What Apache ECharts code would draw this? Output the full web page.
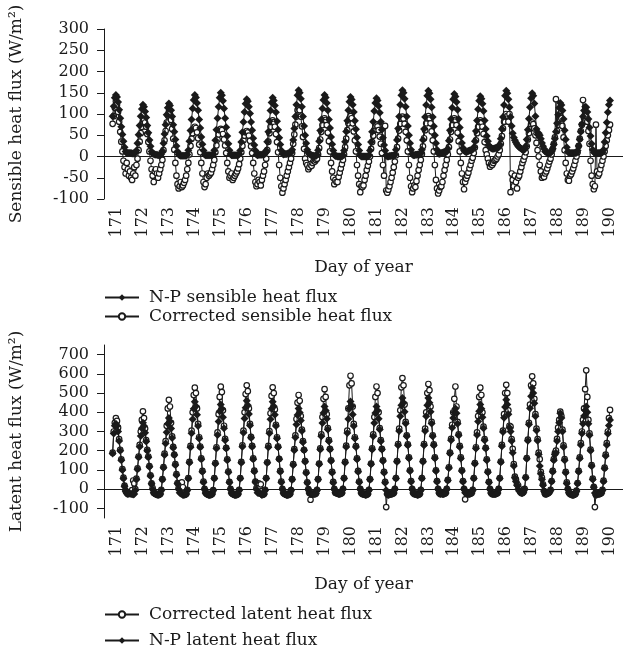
<!DOCTYPE html>
<html>
<head>
<meta charset="utf-8">
<title>Sensible and latent heat flux</title>
<script src="https://cdn.jsdelivr.net/npm/echarts@6/dist/echarts.min.js"></script>
<style>
  html, body { margin: 0; padding: 0; background: #fff; }
  #chart { width: 623px; height: 654px; }
</style>
</head>
<body>
<div id="chart"></div>
<script>
// day of year, one category per day
const days = [171, 172, 173, 174, 175, 176, 177, 178, 179, 180,
  181, 182, 183, 184, 185, 186, 187, 188, 189, 190]

// tick labels of the latent panel (axis runs a bit below -100 and above 700)
const latentTicks = [-100, 0, 100, 200, 300, 400, 500, 600, 700]

// hourly values, one row per day (hour 0..23); record starts day 171 08:00, ends day 190 12:00
const _ = null

// N-P sensible heat flux (W/m2)
const npSensible = [
  [_, _, _, _, _, _, _, _, 95, 118, 138, 145, 140, 128, 110, 90, 70, 52, 36, 22, 12, 8, 8, 8],
  [8, 8, 7, 7, 7, 9, 14, 31, 51, 73, 95, 112, 122, 117, 106, 92, 73, 56, 39, 24, 12, 7, 6, 5],
  [4, 4, 3, 3, 3, 6, 13, 31, 53, 75, 98, 115, 125, 120, 109, 94, 75, 58, 40, 25, 12, 5, 3, 2],
  [2, 2, 2, 2, 2, 5, 15, 36, 61, 87, 113, 133, 145, 139, 126, 109, 87, 67, 46, 29, 14, 5, 3, 3],
  [3, 3, 3, 3, 3, 6, 15, 38, 63, 90, 117, 138, 150, 144, 131, 113, 90, 69, 48, 30, 15, 6, 3, 3],
  [3, 3, 3, 3, 3, 6, 14, 34, 57, 81, 105, 124, 135, 130, 117, 101, 81, 62, 43, 27, 14, 5, 3, 4],
  [4, 4, 4, 5, 5, 7, 14, 35, 58, 83, 108, 127, 138, 132, 120, 104, 83, 63, 44, 28, 14, 7, 5, 6],
  [6, 6, 7, 7, 8, 10, 16, 39, 66, 94, 122, 144, 156, 150, 136, 117, 94, 72, 50, 31, 16, 9, 6, 4],
  [3, 2, 2, 1, 1, 4, 15, 36, 61, 87, 113, 133, 145, 139, 126, 109, 87, 67, 46, 29, 14, 4, 1, 1],
  [0, 0, 0, 0, 0, 3, 14, 35, 59, 84, 109, 129, 140, 134, 122, 105, 84, 64, 45, 28, 14, 3, 0, 0],
  [0, 0, 0, 0, 0, 3, 14, 34, 58, 82, 107, 126, 137, 132, 119, 103, 82, 63, 44, 27, 14, 3, 0, 0],
  [1, 1, 2, 2, 2, 5, 16, 39, 66, 94, 122, 144, 156, 150, 136, 117, 94, 72, 50, 31, 16, 6, 3, 3],
  [4, 4, 5, 5, 5, 8, 16, 39, 65, 93, 121, 143, 155, 149, 135, 116, 93, 71, 50, 31, 16, 8, 6, 7],
  [8, 9, 10, 10, 10, 12, 18, 37, 62, 88, 115, 135, 147, 141, 128, 110, 88, 68, 47, 32, 20, 14, 12, 10],
  [12, 13, 14, 14, 15, 17, 22, 36, 60, 85, 111, 131, 142, 136, 124, 107, 85, 65, 48, 36, 26, 22, 20, 18],
  [18, 19, 20, 20, 20, 22, 28, 42, 65, 93, 121, 143, 155, 149, 135, 116, 93, 72, 55, 45, 38, 33, 28, 25],
  [22, 20, 18, 16, 15, 17, 24, 40, 63, 89, 116, 137, 149, 143, 125, 95, 65, 52, 55, 50, 42, 32, 24, 18],
  [12, 10, 9, 8, 8, 9, 12, 18, 28, 42, 58, 78, 98, 115, 126, 121, 108, 88, 62, 40, 22, 12, 8, 8],
  [8, 8, 8, 8, 8, 9, 14, 25, 40, 58, 76, 94, 108, 117, 116, 105, 88, 68, 48, 30, 16, 10, 8, 8],
  [8, 8, 8, 8, 8, 10, 16, 34, 56, 80, 104, 122, 132]
]

// corrected sensible heat flux (W/m2)
const corrSensible = [
  [_, _, _, _, _, _, _, _, 77, 95, 115, 130, 122, 105, 82, 58, 35, 12, -10, -25, -40, -15, -30, -45],
  [-35, -50, -55, -40, -25, -45, -20, -5, 15, 35, 55, 70, 82, 85, 80, 70, 53, 34, 12, -10, -30, -45, -60, -35],
  [-30, -40, -50, -40, -30, -20, -8, 15, 38, 60, 80, 97, 105, 100, 86, 65, 42, 16, -15, -45, -65, -75, -70, -60],
  [-72, -68, -62, -55, -45, -30, -15, 5, 25, 42, 55, 66, 70, 67, 57, 43, 28, 10, -15, -40, -60, -72, -65, -50],
  [-40, -45, -42, -38, -30, -20, -8, 10, 26, 40, 52, 62, 65, 62, 53, 40, 26, 8, -15, -35, -50, -45, -40, -55],
  [-50, -45, -40, -35, -28, -18, -5, 10, 25, 38, 49, 57, 60, 57, 49, 37, 24, 8, -15, -40, -60, -70, -65, -55],
  [-60, -68, -55, -45, -35, -20, -5, 15, 35, 55, 70, 81, 85, 81, 70, 53, 34, 10, -20, -50, -70, -85, -75, -65],
  [-55, -45, -35, -25, -15, -5, 8, 30, 52, 75, 94, 109, 115, 109, 94, 71, 46, 18, -5, -15, -20, -30, -25, -18],
  [-22, -15, -10, -12, -8, -5, 5, 20, 40, 58, 74, 86, 90, 86, 74, 56, 36, 12, -15, -35, -50, -65, -55, -60],
  [-60, -48, -38, -28, -18, -8, 5, 22, 42, 62, 78, 90, 95, 90, 78, 59, 38, 12, -20, -45, -65, -84, -70, -72],
  [-68, -55, -45, -32, -22, -12, 0, 18, 34, 49, 62, 71, 75, 71, 62, 47, 30, 8, -20, -45, 72, -80, -85, -78],
  [-70, -60, -50, -38, -25, -12, 3, 22, 42, 61, 77, 89, 94, 89, 77, 58, 38, 12, -20, -50, -70, -84, -75, -68],
  [-72, -58, -45, -32, -20, -8, 6, 24, 43, 62, 78, 90, 95, 90, 78, 59, 38, 12, -20, -55, -75, -87, -80, -72],
  [-70, -60, -45, -32, -20, -8, 5, 22, 40, 58, 74, 86, 90, 86, 74, 56, 36, 12, -15, -40, -60, -77, -60, -52],
  [-45, -38, -28, -20, -10, -3, 8, 21, 38, 55, 70, 81, 85, 81, 70, 53, 34, 15, 5, -5, -15, -24, -18, -20],
  [-15, -10, -8, -5, 0, 5, 15, 30, 48, 66, 82, 95, 100, 95, 82, 100, -84, -40, -55, -70, -45, -60, -75, -50],
  [-45, -35, -25, -15, -8, 0, 10, 24, 40, 55, 66, 76, 80, 76, 66, 50, 32, 15, 0, -20, -35, -50, -45, -48],
  [-40, -35, -28, -20, -12, -5, 5, 18, 30, 45, 135, 60, 75, 88, 95, 90, 72, 45, 15, -15, -40, -55, -57, -45],
  [-42, -35, -28, -20, -10, 0, 10, 25, 42, 60, 75, 133, 90, 98, 95, 82, 60, 30, -10, -45, -65, -77, -70, 75],
  [-35, -45, -40, -30, -20, -10, 0, 12, 25, 38, 50, 62, 75]
]

// N-P latent heat flux (W/m2)
const npLatent = [
  [_, _, _, _, _, _, _, _, 185, 290, 330, 340, 330, 300, 250, 200, 150, 100, 55, 15, -10, -20, -25, -22],
  [-22, -25, -25, -28, -25, -5, 50, 104, 166, 221, 276, 317, 345, 328, 293, 248, 200, 166, 117, 69, 28, 0, -18, -22],
  [-25, -28, -30, -28, -25, -5, 50, 111, 178, 237, 296, 340, 370, 352, 315, 266, 215, 178, 126, 74, 30, 0, -18, -22],
  [-25, -30, -30, -28, -25, -5, 55, 137, 218, 291, 364, 419, 455, 432, 387, 328, 264, 218, 155, 91, 36, 0, -20, -25],
  [-25, -30, -30, -28, -25, -5, 55, 132, 211, 282, 352, 405, 440, 418, 374, 317, 255, 211, 150, 88, 35, 0, -20, -25],
  [-25, -30, -30, -28, -25, -5, 55, 138, 221, 294, 368, 423, 460, 437, 391, 331, 267, 221, 156, 92, 37, 0, -18, -20],
  [-20, -25, -30, -28, -25, -5, 55, 137, 218, 291, 364, 419, 455, 432, 387, 328, 264, 218, 155, 91, 36, 0, -20, -25],
  [-25, -30, -30, -28, -25, -5, 50, 126, 202, 269, 336, 386, 420, 399, 357, 302, 244, 202, 143, 84, 34, 0, -20, -25],
  [-25, -25, -25, -25, -22, -5, 50, 129, 206, 275, 344, 396, 430, 409, 366, 310, 249, 206, 146, 86, 34, 0, -18, -20],
  [-20, -25, -25, -22, -20, 0, 55, 137, 219, 292, 365, 420, 456, 433, 388, 328, 264, 219, 155, 91, 36, 0, -20, -25],
  [-25, -25, -30, -28, -25, -5, 50, 129, 206, 275, 344, 396, 430, 409, 366, 310, 249, 206, 146, 86, 34, -5, -25, -30],
  [-25, -25, -25, -22, -20, 0, 55, 142, 228, 303, 379, 436, 474, 450, 403, 341, 275, 228, 161, 95, 38, 0, -20, -25],
  [-25, -25, -30, -28, -25, -5, 55, 142, 228, 303, 379, 436, 474, 450, 403, 341, 275, 228, 161, 95, 38, 0, -20, -25],
  [-20, -25, -25, -22, -20, 0, 45, 110, 185, 255, 320, 370, 400, 420, 395, 340, 280, 220, 160, 95, 38, 0, -18, -20],
  [-20, -25, -25, -22, -20, -5, 55, 132, 211, 282, 352, 405, 440, 418, 374, 317, 255, 211, 150, 88, 35, 0, -20, -25],
  [-25, -25, -25, -22, -20, 0, 55, 140, 223, 298, 372, 428, 465, 440, 390, 320, 300, 250, 190, 120, 60, 40, 20, 0],
  [-10, -15, -20, -20, -15, 0, 60, 158, 252, 337, 421, 484, 526, 500, 447, 379, 305, 252, 180, 120, 80, 50, 20, -10],
  [-25, -25, -22, -20, -15, -5, 40, 90, 150, 180, 190, 250, 300, 345, 395, 370, 300, 220, 150, 85, 30, 0, -18, -25],
  [-25, -30, -30, -28, -25, -10, 30, 90, 160, 230, 290, 340, 380, 410, 430, 400, 340, 280, 200, 120, 50, 10, -20, -30],
  [-25, -25, -25, -22, -20, -5, 40, 108, 173, 230, 288, 331, 360]
]

// corrected latent heat flux (W/m2)
const corrLatent = [
  [_, _, _, _, _, _, _, _, 190, 300, 345, 370, 355, 320, 260, 205, 155, 105, 60, 18, -8, -18, -25, -20],
  [-20, -15, -5, 45, 30, 0, 55, 108, 170, 230, 300, 360, 405, 370, 315, 255, 205, 170, 120, 72, 30, 5, -18, -22],
  [-25, -28, -30, -28, -25, -3, 52, 115, 185, 250, 330, 420, 465, 430, 345, 275, 220, 180, 130, 78, 32, 5, 15, 30],
  [35, 10, -20, -28, -25, -3, 58, 142, 225, 305, 400, 490, 528, 500, 420, 340, 270, 222, 160, 95, 40, 2, -18, -25],
  [-25, -30, -30, -28, -25, -5, 58, 136, 218, 295, 390, 480, 533, 505, 410, 330, 262, 215, 155, 92, 38, 2, -20, -25],
  [-25, -30, -30, -28, -25, -3, 58, 142, 228, 305, 400, 495, 540, 510, 420, 340, 272, 225, 160, 96, 40, 5, 15, 30],
  [10, 25, -10, -28, -25, -3, 58, 140, 225, 302, 395, 485, 530, 500, 415, 335, 270, 222, 158, 95, 40, 2, -20, -25],
  [-25, -30, -30, -28, -25, -5, 52, 130, 208, 280, 365, 450, 490, 460, 380, 310, 250, 205, 146, 88, 36, 0, -20, -55],
  [-25, -25, -25, -25, -22, -3, 52, 133, 212, 285, 375, 470, 520, 480, 390, 318, 255, 210, 150, 90, 38, 2, -18, -20],
  [-20, -25, -25, -22, -20, 2, 58, 142, 226, 305, 420, 540, 590, 550, 430, 340, 270, 224, 160, 95, 40, 2, -20, -25],
  [-25, -25, -30, -28, -25, -3, 52, 133, 212, 285, 375, 480, 534, 500, 400, 318, 255, 210, 150, 90, 38, -93, -25, -30],
  [-25, -25, -25, -22, -20, 2, 58, 146, 235, 315, 410, 530, 578, 540, 440, 350, 280, 233, 165, 98, 42, 2, -20, -25],
  [-25, -25, -30, -28, -25, -3, 58, 146, 235, 315, 400, 500, 547, 515, 430, 350, 280, 233, 165, 98, 42, 2, -20, -25],
  [-20, -25, -25, -22, -20, 2, 48, 114, 190, 262, 335, 400, 470, 534, 430, 350, 285, 225, 165, 98, 42, 2, -53, -20],
  [-20, -25, -25, -22, -20, -3, 58, 136, 218, 295, 380, 480, 528, 490, 400, 325, 260, 215, 155, 92, 38, 2, -20, -25],
  [-25, -25, -25, -22, -20, 2, 58, 144, 230, 305, 390, 500, 543, 500, 410, 330, 325, 260, 210, 130, 65, 50, 25, 20],
  [0, -15, -20, -20, -15, 2, 62, 162, 258, 345, 440, 540, 587, 550, 470, 390, 315, 260, 190, 156, 90, 60, 25, -10],
  [-25, -25, -22, -20, -15, -3, 42, 95, 156, 188, 200, 262, 320, 360, 403, 380, 310, 228, 156, 90, 35, 2, -18, -25],
  [-25, -30, -30, -28, -25, -8, 32, 95, 165, 240, 300, 360, 420, 520, 618, 480, 360, 290, 206, 125, 55, 12, -93, -30],
  [-20, -25, -25, -22, -20, -3, 44, 112, 180, 240, 300, 370, 412]
]

const font = 'DejaVu Serif'
const ink = '#1a1a1a'

// [time in days, value] for every hourly value that exists
function toPoints(rows) {
  const points = []
  rows.forEach((row, d) => {
    row.forEach((v, h) => {
      if (v !== null) points.push([days[d] + h / 24, v])
    })
  })
  return points
}

function dayAxis(gridIndex, nameGap) {
  return {
    type: 'category',
    gridIndex: gridIndex,
    data: days,
    boundaryGap: true,
    axisLine: { lineStyle: { color: ink, width: 1 } },
    axisTick: { length: 6, lineStyle: { color: ink } },
    axisLabel: { rotate: 90, margin: 8, fontFamily: font, fontSize: 16, color: ink },
    name: 'Day of year',
    nameLocation: 'middle',
    nameGap: nameGap,
    nameTextStyle: { fontFamily: font, fontSize: 17, color: ink }
  }
}

function timeAxis(gridIndex) {
  return { type: 'value', gridIndex: gridIndex, min: 171, max: 191, show: false }
}

function lineSeries(name, rows, xIdx, yIdx, filled) {
  return {
    name: name,
    type: 'line',
    xAxisIndex: xIdx,
    yAxisIndex: yIdx,
    data: toPoints(rows),
    symbol: filled ? 'diamond' : 'circle',
    symbolSize: filled ? 8 : 5.5,
    itemStyle: filled
      ? { color: ink }
      : { color: '#fff', borderColor: ink, borderWidth: 1.2 },
    lineStyle: { color: ink, width: 1 },
    z: filled ? 3 : 2
  }
}

function legendBox(names, top, gap) {
  return {
    data: names,
    orient: 'vertical',
    left: 104,
    top: top,
    padding: 0,
    itemGap: gap,
    itemWidth: 34,
    itemHeight: 8,
    textStyle: { fontFamily: font, fontSize: 17, color: ink, padding: [0, 0, 0, 5] }
  }
}

const chart = echarts.init(document.getElementById('chart'))
chart.setOption({
  animation: false,
  backgroundColor: '#fff',
  grid: [
    { left: 104, right: -1, top: 29, height: 170 },
    { left: 104, right: -1, top: 345, height: 173 }
  ],
  legend: [
    legendBox(['N-P sensible heat flux', 'Corrected sensible heat flux'], 289, 2),
    legendBox(['Corrected latent heat flux', 'N-P latent heat flux'], 606, 9)
  ],
  xAxis: [dayAxis(0, 60), timeAxis(0), dayAxis(1, 58), timeAxis(1)],
  yAxis: [
    {
      type: 'value',
      gridIndex: 0,
      min: -100,
      max: 300,
      interval: 50,
      splitLine: { show: false },
      axisLine: { show: true, lineStyle: { color: ink } },
      axisTick: { show: true, length: 7, lineStyle: { color: ink } },
      axisLabel: { fontFamily: font, fontSize: 16, color: ink, margin: 15 },
      name: 'Sensible heat flux (W/m²)',
      nameLocation: 'middle',
      nameGap: 79,
      nameTextStyle: { fontFamily: font, fontSize: 17, color: ink }
    },
    {
      type: 'value',
      gridIndex: 1,
      min: -150,
      max: 750,
      splitLine: { show: false },
      axisLine: { show: true, lineStyle: { color: ink } },
      axisTick: { show: true, length: 7, lineStyle: { color: ink }, customValues: latentTicks },
      axisLabel: { fontFamily: font, fontSize: 16, color: ink, margin: 15, customValues: latentTicks },
      name: 'Latent heat flux (W/m²)',
      nameLocation: 'middle',
      nameGap: 79,
      nameTextStyle: { fontFamily: font, fontSize: 17, color: ink }
    }
  ],
  series: [
    lineSeries('Corrected sensible heat flux', corrSensible, 1, 0, false),
    lineSeries('N-P sensible heat flux', npSensible, 1, 0, true),
    lineSeries('Corrected latent heat flux', corrLatent, 3, 1, false),
    lineSeries('N-P latent heat flux', npLatent, 3, 1, true)
  ]
})
</script>
</body>
</html>
